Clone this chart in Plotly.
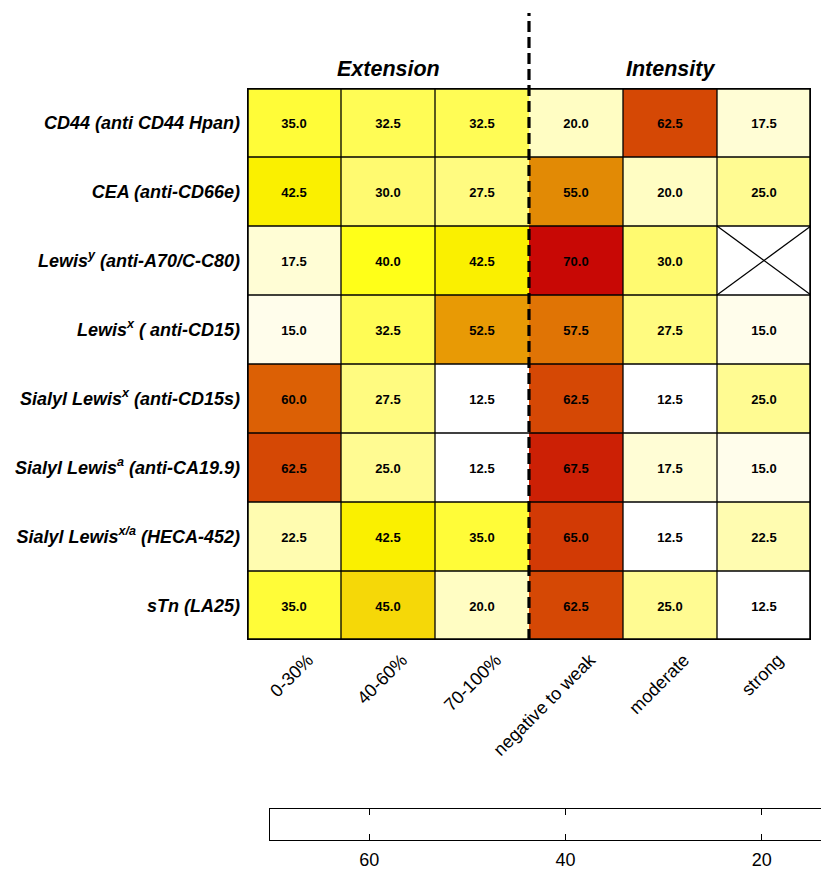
import plotly.graph_objects as go

# ---------------- data ----------------
row_labels = [
    "CD44 (anti CD44 Hpan)",
    "CEA (anti-CD66e)",
    "Lewis<sup>y</sup> (anti-A70/C-C80)",
    "Lewis<sup>x</sup> ( anti-CD15)",
    "Sialyl Lewis<sup>x</sup> (anti-CD15s)",
    "Sialyl Lewis<sup>a</sup> (anti-CA19.9)",
    "Sialyl Lewis<sup>x/a</sup> (HECA-452)",
    "sTn (LA25)",
]
col_labels = ["0-30%", "40-60%", "70-100%", "negative to weak", "moderate", "strong"]
group_titles = ["Extension", "Intensity"]

ext_0_30 = [35.0, 42.5, 17.5, 15.0, 60.0, 62.5, 22.5, 35.0]
ext_40_60 = [32.5, 30.0, 40.0, 32.5, 27.5, 25.0, 42.5, 45.0]
ext_70_100 = [32.5, 27.5, 42.5, 52.5, 12.5, 12.5, 35.0, 20.0]
int_neg_weak = [20.0, 55.0, 70.0, 57.5, 62.5, 67.5, 65.0, 62.5]
int_moderate = [62.5, 20.0, 30.0, 27.5, 12.5, 17.5, 12.5, 25.0]
int_strong = [17.5, 25.0, None, 15.0, 25.0, 15.0, 22.5, 12.5]

columns = [ext_0_30, ext_40_60, ext_70_100, int_neg_weak, int_moderate, int_strong]
colorbar_ticks = [60, 40, 20]

ZMIN, ZMAX = 12.5, 70.0
stops = [
    (12.5, "#FFFFFF"), (15.0, "#FFFDEB"), (17.5, "#FFFDD5"), (20.0, "#FFFDC3"),
    (22.5, "#FFFCB0"), (25.0, "#FFFB92"), (27.5, "#FFFB80"), (30.0, "#FFFA70"),
    (32.5, "#FFFC55"), (35.0, "#FFFC38"), (40.0, "#FFFF18"), (42.5, "#FAF000"),
    (45.0, "#F5D808"), (52.5, "#E89A05"), (55.0, "#E28A05"), (57.5, "#E07405"),
    (60.0, "#DC6005"), (62.5, "#D54805"), (65.0, "#D23A05"), (67.5, "#CC2005"),
    (70.0, "#C80805"),
]
colorscale = [[(v - ZMIN) / (ZMAX - ZMIN), c] for v, c in stops]

nrows, ncols = len(row_labels), len(col_labels)
z = [[columns[j][i] for j in range(ncols)] for i in range(nrows)]
text = [["" if v is None else f"{v:.1f}" for v in row] for row in z]

FONT = "Liberation Sans, Arial, sans-serif"
# page body has an 8px margin -> figure is offset by 8px in the window
OFF = 8
W, H = 829 - OFF, 872 - OFF


def fx(px):
    return (px - OFF) / W


def fy(py):
    return 1 - (py - OFF) / H


# layout geometry in window pixels
PL, PR, PT, PB = 247, 811, 88, 640
CB_L, CB_T, CB_B = 270, 809, 840

fig = go.Figure()
fig.add_trace(go.Heatmap(
    z=z, x=list(range(ncols)), y=list(range(nrows)),
    text=text, texttemplate="%{text}",
    textfont=dict(family=FONT, size=13, color="black", weight="bold"),
    colorscale=colorscale, zmin=ZMIN, zmax=ZMAX, showscale=False,
    hoverinfo="skip", xaxis="x", yaxis="y",
))
fig.add_trace(go.Scatter(x=[None], y=[None], xaxis="x2", yaxis="y2",
                         showlegend=False, hoverinfo="skip"))

shapes = []
# inner grid lines
for k in range(1, ncols):
    if k == 3:
        continue
    shapes.append(dict(type="line", xref="x", yref="y", x0=k - 0.5, x1=k - 0.5,
                       y0=-0.5, y1=nrows - 0.5, line=dict(color="black", width=1.3)))
for k in range(1, nrows):
    shapes.append(dict(type="line", xref="x", yref="y", x0=-0.5, x1=ncols - 0.5,
                       y0=k - 0.5, y1=k - 0.5, line=dict(color="black", width=1.3)))
# missing cell cross
for i in range(nrows):
    for j in range(ncols):
        if z[i][j] is None:
            shapes.append(dict(type="line", xref="x", yref="y", x0=j - 0.5, x1=j + 0.5,
                               y0=i - 0.5, y1=i + 0.5, line=dict(color="black", width=1.3)))
            shapes.append(dict(type="line", xref="x", yref="y", x0=j - 0.5, x1=j + 0.5,
                               y0=i + 0.5, y1=i - 0.5, line=dict(color="black", width=1.3)))
# outer border
shapes.append(dict(type="rect", xref="x", yref="y", x0=-0.5, x1=ncols - 0.5,
                   y0=-0.5, y1=nrows - 0.5, line=dict(color="black", width=3.5)))
# dashed separator
shapes.append(dict(type="line", xref="x", yref="paper", x0=2.5, x1=2.5,
                   y0=fy(PB), y1=fy(13),
                   line=dict(color="black", width=3.2, dash="11px,5px")))

annotations = []
for g, title in enumerate(group_titles):
    annotations.append(dict(x=1 + 3 * g, xref="x", y=fy(55), yref="paper",
                            text=title, showarrow=False,
                            font=dict(family=FONT, size=21.5, color="black",
                                      weight="bold", style="italic")))

fig.update_layout(
    template="none",
    width=W, height=H,
    margin=dict(l=0, r=0, t=0, b=0),
    paper_bgcolor="white", plot_bgcolor="white",
    showlegend=False,
    shapes=shapes, annotations=annotations,
    xaxis=dict(domain=[fx(PL), fx(PR)], anchor="y", range=[-0.5, ncols - 0.5],
               tickvals=list(range(ncols)), ticktext=col_labels, tickangle=-45,
               ticks="", showgrid=False, zeroline=False, showline=False,
               ticklabelshift=14, ticklabelstandoff=5,
               tickfont=dict(family=FONT, size=18, color="black"), automargin=False),
    yaxis=dict(domain=[fy(PB), fy(PT)], anchor="x", range=[nrows - 0.5, -0.5],
               tickvals=list(range(nrows)), ticktext=row_labels,
               ticks="", showgrid=False, zeroline=False, showline=False,
               ticklabelstandoff=6,
               tickfont=dict(family=FONT, size=18, color="black",
                             weight="bold", style="italic"), automargin=False),
    xaxis2=dict(domain=[fx(CB_L), 1.0], anchor="y2", range=[70.1, 13.16],
                tickvals=colorbar_ticks, ticks="inside", ticklen=6, tickcolor="black",
                mirror="ticks", showline=True, linecolor="black", linewidth=1,
                showgrid=False, zeroline=False, ticklabelstandoff=3,
                tickfont=dict(family=FONT, size=18, color="black"), automargin=False),
    yaxis2=dict(domain=[fy(CB_B), fy(CB_T)], anchor="x2", range=[0, 1],
                showticklabels=False, ticks="", mirror=True, showline=True,
                linecolor="black", linewidth=1, showgrid=False, zeroline=False,
                automargin=False),
)

fig.write_html("out.html")
